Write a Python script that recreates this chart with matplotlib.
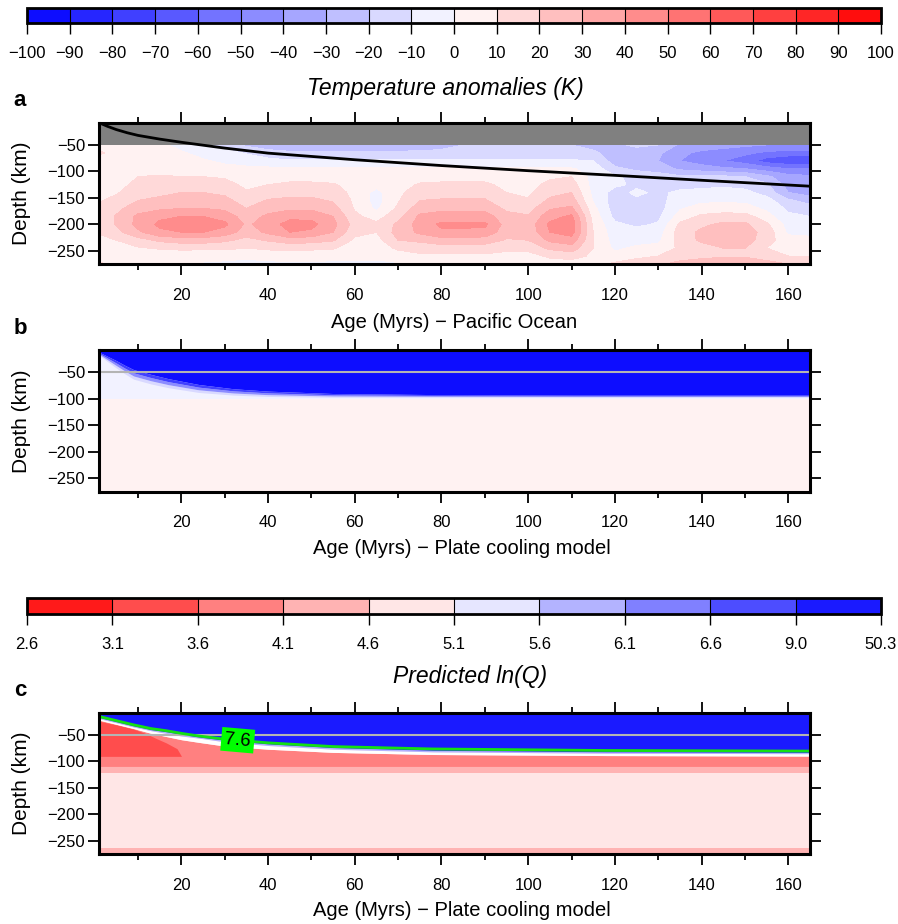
import numpy as np
import matplotlib
matplotlib.use("Agg")
import matplotlib.pyplot as plt
import matplotlib as mpl
from matplotlib.colors import ListedColormap, BoundaryNorm

plt.rcParams['font.family'] = ['Liberation Sans', 'DejaVu Sans']

# ---------------- data ----------------
anom_levels = list(range(-100, 101, 10))
anom_tick_labels = [str(v).replace('-', '\u2212') for v in anom_levels]
lnq_labels = ['2.6', '3.1', '3.6', '4.1', '4.6', '5.1', '5.6', '6.1', '6.6', '9.0', '50.3']

ages_a = [1, 5, 10, 15, 20, 25, 30, 35, 40, 45, 50, 55, 60, 65, 70, 75, 80, 85,
          90, 95, 100, 105, 110, 115, 120, 125, 130, 135, 140, 145, 150, 155, 160, 165]
depths_a = [-50, -65, -80, -95, -110, -125, -140, -155, -170, -185, -200, -215,
            -230, -245, -260, -275]
# temperature anomaly profiles (K), one per age, top (-50 km) to bottom (-275 km)
anom_profiles = [
    [4, 12, 5, 5, 5, 5, 6, 9, 11, 12, 12, 11, 7, 4, 6, 12],
    [4, 6, 5, 5, 5, 6, 9, 13, 17, 21, 21, 17, 10, 5, 4, 6],
    [3, 3, 4, 6, 10, 13, 16, 20, 26, 32, 33, 28, 16, 9, 4, 2],
    [2, 3, 4, 6, 11, 15, 18, 22, 28, 38, 42, 38, 22, 11, 4, 1],
    [-3, 1, 4, 6, 10, 16, 20, 24, 30, 40, 45, 40, 25, 12, 4, 0],
    [-8, -3, 1, 4, 10, 14, 20, 24, 30, 40, 46, 40, 25, 12, 3, -1],
    [-15, -6, -2, 3, 9, 13, 18, 23, 28, 36, 42, 36, 22, 12, 3, -2],
    [-22, -11, -4, 2, 6, 8, 11, 15, 20, 25, 28, 25, 17, 10, 2, -3],
    [-26, -16, -7, 2, 8, 10, 14, 21, 26, 32, 35, 32, 21, 12, 3, -2],
    [-28, -18, -9, 1, 6, 12, 17, 22, 28, 37, 44, 40, 25, 13, 4, -2],
    [-28, -18, -9, 1, 6, 12, 17, 22, 28, 37, 43, 38, 24, 12, 4, -2],
    [-28, -18, -9, 1, 5, 11, 15, 19, 24, 30, 33, 30, 21, 11, 3, -2],
    [-28, -18, -9, 1, 4, 6, 7, 8, 9, 12, 16, 13, 8, 5, 2, -2],
    [-27, -18, -9, 1, 3, 3, -3, -4, -2, 6, 12, 10, 6, 4, 2, -2],
    [-27, -18, -9, 1, 4, 6, 8, 9, 12, 16, 22, 24, 20, 12, 4, -1],
    [-26, -18, -9, 1, 6, 11, 15, 20, 25, 32, 34, 32, 22, 14, 8, 2],
    [-24, -17, -9, 1, 6, 12, 16, 21, 27, 35, 42, 38, 26, 15, 8, 2],
    [-20, -15, -9, 1, 6, 12, 16, 21, 27, 35, 42, 38, 26, 15, 8, 2],
    [-19, -15, -9, 1, 6, 12, 16, 21, 27, 35, 42, 37, 25, 15, 8, 2],
    [-19, -15, -9, 1, 4, 7, 10, 13, 18, 23, 26, 24, 19, 13, 6, 2],
    [-19, -15, -9, 1, 4, 6, 8, 11, 16, 21, 24, 23, 20, 13, 6, 2],
    [-19, -15, -9, 1, 8, 13, 17, 22, 29, 36, 42, 40, 32, 22, 12, 4],
    [-20, -16, -9, 1, 10, 15, 20, 25, 32, 42, 46, 44, 36, 25, 14, 5],
    [-24, -18, -10, -4, -4, -4, -3, -1, 3, 6, 8, 10, 10, 10, 8, 6],
    [-22, -25, -25, -18, -8, -8, -14, -15, -15, -13, -8, -6, -4, -2, 3, 12],
    [-18, -25, -25, -22, -14, -12, -8, -12, -15, -14, -12, -6, -4, 2, 8, 14],
    [-20, -28, -30, -25, -15, -12, -12, -14, -14, -12, -9, -5, -2, 3, 10, 18],
    [-32, -38, -40, -32, -18, -14, -8, -4, -1, 4, 12, 15, 14, 12, 14, 24],
    [-35, -42, -45, -35, -18, -14, -6, -2, 4, 12, 18, 22, 22, 15, 16, 28],
    [-36, -45, -50, -38, -18, -12, -6, -2, 5, 14, 22, 25, 25, 20, 18, 31],
    [-38, -48, -55, -40, -20, -14, -7, -2, 4, 14, 22, 25, 25, 20, 18, 31],
    [-40, -52, -65, -45, -28, -18, -14, -6, -2, 4, 12, 16, 14, 10, 12, 26],
    [-40, -55, -68, -50, -36, -34, -30, -18, -12, -8, -4, -2, 4, 6, 10, 20],
    [-40, -55, -68, -50, -38, -36, -34, -25, -15, -10, -5, -2, 2, 6, 10, 16],
]

# lithosphere base (black curve, panel a)
lith_age = [1, 2, 3, 5, 7.5, 10, 15, 20, 30, 40, 60, 80, 100, 120, 140, 165]
lith_depth = [-8, -11.5, -15, -21, -27, -32, -39, -45, -56, -65.5, -78, -89, -98.7,
              -107.5, -116.8, -128]

# panel b: plate cooling model anomaly zones
ages_b = [1, 3, 5, 7, 9, 13, 17, 24, 32, 40, 55, 78, 110, 165]
blue_bottom_b = [-12, -20, -28, -37, -45, -54, -62, -73, -81, -85.5, -90, -92, -93, -93]
fade_bottom_b = [-18, -30, -42, -53, -63, -72, -79, -88, -93, -95.5, -97, -97, -97, -97]

# panel c: predicted ln(Q) zones
ages_c = [1, 5, 9, 13, 16.5, 20, 24, 30, 40, 55, 78, 118, 165]
green_c = [-15, -23, -31, -38, -42, -47, -52, -58, -65, -72, -76.5, -79.4, -80.5]
blue_bottom_c = [-17, -25, -33, -40, -44, -49, -54, -60, -67, -74, -79, -82, -83]
white_top_c = [-19, -27, -35, -42, -47, -52, -56, -63, -70, -77, -82, -84.5, -85.5]
salmon_top_c = [-22, -30, -38, -47, -53, -59, -64, -71, -77, -83, -87, -89, -90]
red_age_c = [1, 5, 9, 12, 14, 16.5, 19, 20]
red_top_c = [-24, -31, -39, -48, -56, -65, -76, -90]

# ---------------- colours ----------------
anom_colors = []
for i in range(20):
    c = -95 + 10 * i
    if c < 0:
        t = 1 + c / 100.0
        anom_colors.append((t, t, 1.0))
    else:
        t = 1 - c / 100.0
        anom_colors.append((1.0, t, t))
lnq_colors = [(1, t, t) for t in (0.1, 0.3, 0.5, 0.7, 0.9)] + \
             [(t, t, 1) for t in (0.9, 0.7, 0.5, 0.3, 0.1)]

W, H = 898, 924
fig = plt.figure(figsize=(W / 100, H / 100), dpi=100)


def fx(px):
    return px / W


def fy(py):
    return 1 - py / H


def add_panel(top_px, bottom_px):
    return fig.add_axes([fx(99), fy(bottom_px), fx(810) - fx(99), (bottom_px - top_px) / H])


def style(ax):
    ax.set_xlim(1, 165)
    ax.set_ylim(-275, -8)
    ax.set_xticks(range(20, 161, 20))
    ax.set_xticks(range(10, 161, 20), minor=True)
    ax.set_yticks([-250, -200, -150, -100, -50])
    ax.tick_params(which='both', direction='out', top=True, right=True, width=1.3,
                   labelsize=12, color='black')
    ax.tick_params(which='major', length=8)
    ax.tick_params(which='minor', length=4)
    ax.tick_params(axis='x', pad=9)
    ax.tick_params(axis='y', pad=2)
    for s in ax.spines.values():
        s.set_linewidth(2.2)
        s.set_zorder(10)


def colorbar(top_px, bottom_px, colors, bounds, labels):
    cax = fig.add_axes([fx(27), fy(bottom_px), fx(881) - fx(27), (bottom_px - top_px) / H])
    cmap = ListedColormap(colors)
    norm = BoundaryNorm(bounds, len(colors))
    cb = mpl.colorbar.ColorbarBase(cax, cmap=cmap, norm=norm, orientation='horizontal',
                                   drawedges=True, ticks=bounds, spacing='uniform')
    cb.ax.set_xticklabels(labels)
    cb.outline.set_linewidth(2)
    cb.dividers.set_linewidth(0.8)
    cax.tick_params(direction='out', length=8, width=1, pad=9, labelsize=12)
    return cb


# ---------------- top colourbar ----------------
colorbar(7.5, 22.5, anom_colors, anom_levels, anom_tick_labels)
fig.text(fx(445), fy(88), 'Temperature anomalies (K)', ha='center', va='center',
         fontsize=16.5, style='italic')

# ---------------- panel a ----------------
axa = add_panel(122.7, 264)
A, D = np.meshgrid(ages_a, depths_a)
Z = np.array(anom_profiles).T
axa.contourf(A, D, Z, levels=anom_levels, colors=anom_colors)
axa.fill_between([1, 165], -50, -5, color='#808080', lw=0)
axa.plot(lith_age, lith_depth, color='black', lw=2)
style(axa)

fig.text(fx(20), fy(101), 'a', fontsize=16, fontweight='bold', ha='center', va='center')
fig.text(fx(454), fy(322), 'Age (Myrs) \u2212 Pacific Ocean', ha='center', va='center', fontsize=14.5)

# ---------------- panel b ----------------
axb = add_panel(350, 491.7)
pale_pink = anom_colors[10]
lav = anom_colors[9]
axb.fill_between([1, 165], -275, -100, color=pale_pink, lw=0)
axb.fill_between([1, 165], -100, -5, color=lav, lw=0)
bb = np.array(blue_bottom_b)
fb = np.array(fade_bottom_b)
band_cols = [anom_colors[8], anom_colors[5], anom_colors[2]]
for k, col in enumerate(band_cols):
    top = bb + (fb - bb) * (2 - k) / 3.0
    bot = bb + (fb - bb) * (3 - k) / 3.0
    axb.fill_between(ages_b, bot, top, color=col, lw=0)
axb.fill_between(ages_b, bb, -5, color=anom_colors[0], lw=0)
axb.axhline(-50, color='#b4b4b4', lw=1.5)
style(axb)

fig.text(fx(20), fy(328), 'b', fontsize=16, fontweight='bold', ha='center', va='center')
fig.text(fx(462), fy(548), 'Age (Myrs) \u2212 Plate cooling model', ha='center', va='center', fontsize=14.5)

# ---------------- middle colourbar ----------------
colorbar(598.3, 613.7, lnq_colors, list(range(11)), lnq_labels)
fig.text(fx(470), fy(677), 'Predicted ln(Q)', ha='center', va='center', fontsize=16.5, style='italic')

# ---------------- panel c ----------------
axc = add_panel(712.7, 854)
axc.fill_between([1, 165], -275, -5, color=lnq_colors[4], lw=0)
axc.fill_between([1, 165], -275, -263.5, color=lnq_colors[3], lw=0)
axc.fill_between([1, 165], -122, -109.5, color=lnq_colors[3], lw=0)
axc.fill_between(ages_c, -109.5, salmon_top_c, color=lnq_colors[2], lw=0)
axc.fill_between(red_age_c, -90.5, red_top_c, color=lnq_colors[1], lw=0)
axc.fill_between(ages_c, salmon_top_c, white_top_c, color='white', lw=0)
axc.fill_between(ages_c, white_top_c, blue_bottom_c, color=lnq_colors[6], lw=0)
axc.fill_between(ages_c, blue_bottom_c, -5, color=lnq_colors[9], lw=0)
axc.axhline(-50, color='#b4b4b4', lw=1.5)
axc.plot(ages_c, green_c, color='#14e014', lw=2)
axc.text(33, -60, '7.6', rotation=-5, ha='center', va='center', fontsize=13.5,
         bbox=dict(boxstyle='square,pad=0.18', fc='#00ff00', ec='none'), zorder=5)
style(axc)

fig.text(fx(20), fy(690), 'c', fontsize=16, fontweight='bold', ha='center', va='center')
fig.text(fx(462), fy(910), 'Age (Myrs) \u2212 Plate cooling model', ha='center', va='center', fontsize=14.5)

for ax, top, bot in ((axa, 122.7, 264), (axb, 350, 491.7), (axc, 712.7, 854)):
    fig.text(fx(22), fy((top + bot) / 2), 'Depth (km)', rotation=90, ha='center', va='center',
             fontsize=15)

fig.savefig('out.png', dpi=100)
